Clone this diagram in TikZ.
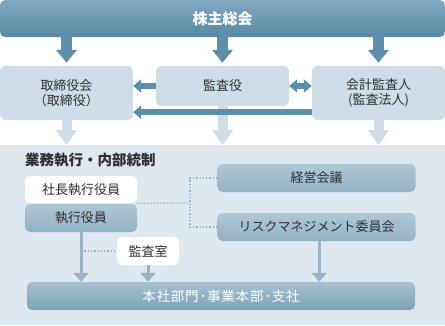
\documentclass[tikz,border=0pt]{standalone}
\usepackage{fontspec}
\setmainfont{Noto Sans CJK JP}
\newfontfamily\jpwide{Noto Sans CJK JP}[LetterSpace=6]
\usetikzlibrary{arrows.meta,calc}
\definecolor{barTop}{HTML}{80A8C0}
\definecolor{barBot}{HTML}{5A8AA6}
\definecolor{darkArr}{HTML}{5E8EAA}
\definecolor{lightBox}{HTML}{CFDDE6}
\definecolor{panelBg}{HTML}{DFE8EE}
\definecolor{midTop}{HTML}{AEC8D6}
\definecolor{midBot}{HTML}{93B3C5}
\definecolor{lowTop}{HTML}{A3C1D1}
\definecolor{lowBot}{HTML}{7DA3B8}
\definecolor{thinArr}{HTML}{97B4C6}
\definecolor{txt}{HTML}{2E2E2E}
\tikzset{
  topbar/.style={rounded corners=5pt, top color=barTop, bottom color=barBot, text=white,
    minimum width=445pt, minimum height=37pt, inner sep=0pt, font=\fontsize{15}{16}\selectfont\bfseries},
  lbx/.style={fill=lightBox, rounded corners=5pt, minimum width=133pt, inner sep=0pt, text=txt,
    align=center, font=\fontsize{13}{15}\selectfont},
  whitebox/.style={fill=white, rounded corners=5pt, inner sep=0pt, text=txt,
    minimum height=27pt, font=\fontsize{13}{15}\selectfont},
  midbox/.style={rounded corners=5pt, top color=midTop, bottom color=midBot, inner sep=0pt, text=txt,
    minimum height=28pt, font=\fontsize{13}{15}\selectfont},
  lowbox/.style={rounded corners=5pt, top color=lowTop, bottom color=lowBot, inner sep=0pt, text=white,
    minimum height=28pt, font=\jpwide\fontsize{13.5}{15}\selectfont},
  bigarr/.style={draw=darkArr, line width=11pt, -{Triangle[width=20pt,length=13pt]}, shorten >=3pt},
  lightarr/.style={draw=lightBox, line width=10pt, -{Triangle[width=20pt,length=15pt]}},
  medarr/.style={draw=darkArr, line width=6pt, -{Triangle[width=13pt,length=8pt]}},
  dblarr/.style={draw=darkArr, line width=6pt, {Triangle[width=13pt,length=8pt]}-{Triangle[width=13pt,length=8pt]}},
  thinarrow/.style={draw=thinArr, line width=3pt, -{Triangle[width=15pt,length=9pt]}},
  dotline/.style={draw=thinArr, line width=1.3pt, dotted},
}
\begin{document}
\begin{tikzpicture}[x=1pt,y=-1pt]
\useasboundingbox (0,0) rectangle (445,325);
\node[fill=panelBg, minimum width=445pt, minimum height=180pt, inner sep=0pt, anchor=north west] (panel) at (0,145) {};
\node[topbar] (top) at (222.5,18.5) {株主総会};
\node[lbx, minimum height=54pt] (lbox) at (66.5,93) {取締役会\\（取締役）};
\node[lbx, minimum height=40pt] (mbox) at (222.5,86) {監査役};
\node[lbx, minimum height=54pt] (rbox) at (378.5,93) {会計監査人\\(監査法人)};
% big arrows
\draw[bigarr] (top.south -| lbox.north) -- (lbox.north);
\draw[bigarr] (top.south -| mbox.north) -- (mbox.north);
\draw[bigarr] (top.south -| rbox.north) -- (rbox.north);
% light arrows
\draw[lightarr] (lbox.south) -- (lbox.south |- panel.north);
\draw[lightarr] (mbox.south) -- (mbox.south |- panel.north);
\draw[lightarr] (rbox.south) -- (rbox.south |- panel.north);
% horizontal arrows
\draw[medarr] (mbox.west) -- (lbox.east |- mbox.west);
\draw[dblarr] (mbox.east) -- (rbox.west |- mbox.east);
\coordinate (lr) at ($(rbox.south west)+(0,-8)$);
\draw[medarr] (lr) -- (lbox.east |- lr);
% lower panel
\node[anchor=west, text=txt, inner sep=0pt, font=\fontsize{14.5}{16}\selectfont\bfseries] (title) at (25,160.5) {業務執行・内部統制};
\node[whitebox, minimum width=112pt] (pres) at (81,189.5) {社長執行役員};
\node[midbox, minimum width=112pt] (exec) at (81,218) {執行役員};
\node[midbox, minimum width=198pt] (keiei) at (316.5,178) {経営会議};
\node[midbox, minimum width=198pt] (risk) at (316.5,227) {リスクマネジメント委員会};
\node[whitebox, minimum width=62pt, minimum height=28pt] (kansa) at (148,251) {監査室};
\node[lowbox, minimum width=388pt] (bottom) at (221,296) {本社部門･事業本部･支社};
% dotted connectors
\coordinate (jx) at (190,203);
\draw[dotline] (pres.south east) -- (jx);
\draw[dotline] (keiei.west) -| (jx) |- (risk.west);
\draw[dotline] (exec.south |- kansa.west) -- (kansa.west);
% thin arrows
\draw[thinarrow] (exec.south) -- (exec.south |- bottom.north);
\draw[thinarrow] (kansa.south) -- (kansa.south |- bottom.north);
\coordinate (rs) at ($(risk.south)+(2.8,0)$);
\draw[thinarrow] (rs) -- (rs |- bottom.north);
\end{tikzpicture}
\end{document}
